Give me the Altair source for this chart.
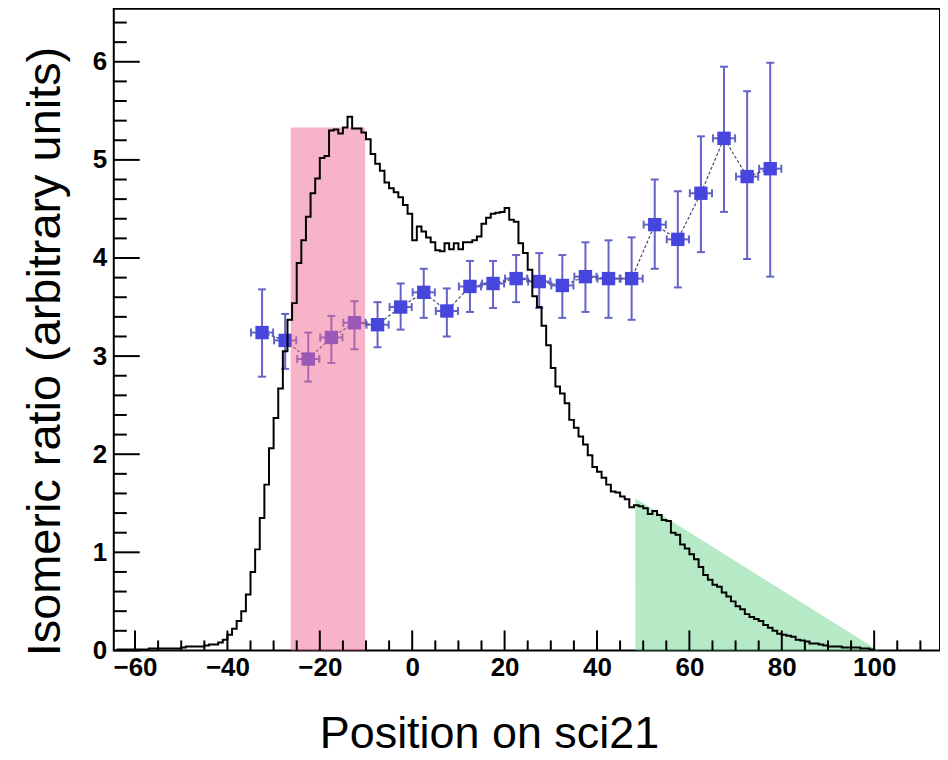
import altair as alt
import pandas as pd

# ---------------- data ----------------
HIST_START = -64          # left edge of first histogram bin (bin width 1)
HIST_VALUES = [
    0.01, 0.01, 0.01, 0.01, 0.01, 0.01, 0.01, 0.02, 0.02, 0.02,   # -64..-55
    0.02, 0.02, 0.02, 0.02, 0.03, 0.04, 0.04, 0.04, 0.04, 0.05,   # -54..-45
    0.06, 0.06, 0.08, 0.11, 0.16, 0.22, 0.30, 0.40, 0.57, 0.80,   # -44..-35
    1.03, 1.35, 1.69, 2.06, 2.37, 2.67, 3.05, 3.37, 3.54, 3.95,   # -34..-25
    4.18, 4.42, 4.66, 4.81, 5.02, 5.04, 5.30, 5.31, 5.27, 5.33,   # -24..-15
    5.44, 5.32, 5.32, 5.28, 5.21, 5.06, 4.96, 4.89, 4.77, 4.71,   # -14..-5
    4.67, 4.62, 4.54, 4.45, 4.18, 4.32, 4.27, 4.21, 4.16, 4.08,   # -4..5
    4.07, 4.15, 4.09, 4.15, 4.09, 4.16, 4.16, 4.18, 4.22, 4.35,   # 6..15
    4.41, 4.45, 4.46, 4.47, 4.51, 4.39, 4.37, 4.15, 4.05, 3.88,   # 16..25
    3.61, 3.50, 3.31, 3.11, 2.88, 2.69, 2.62, 2.52, 2.35, 2.27,   # 26..35
    2.18, 2.10, 1.99, 1.87, 1.82, 1.76, 1.69, 1.62, 1.61, 1.57,   # 36..45
    1.54, 1.46, 1.48, 1.47, 1.45, 1.39, 1.42, 1.38, 1.33, 1.32,   # 46..55
    1.20, 1.18, 1.08, 1.04, 0.98, 0.93, 0.85, 0.77, 0.72, 0.67,   # 56..65
    0.65, 0.59, 0.55, 0.50, 0.45, 0.42, 0.37, 0.34, 0.32, 0.30,   # 66..75
    0.26, 0.23, 0.20, 0.17, 0.16, 0.15, 0.14, 0.11, 0.10, 0.09,   # 76..85
    0.07, 0.07, 0.06, 0.05, 0.04, 0.04, 0.04, 0.03, 0.03, 0.03,   # 86..95
    0.03, 0.02, 0.02, 0.01,                                       # 96..99
]

PT_X = [-32.5, -27.5, -22.5, -17.5, -12.5, -7.5, -2.5, 2.5, 7.5, 12.5, 17.5, 22.5,
        27.5, 32.5, 37.5, 42.5, 47.5, 52.5, 57.5, 62.5, 67.5, 72.5, 77.5]
PT_Y = [3.24, 3.16, 2.97, 3.19, 3.34, 3.32, 3.50, 3.65, 3.46, 3.71, 3.74, 3.79,
        3.76, 3.72, 3.81, 3.79, 3.79, 4.34, 4.19, 4.66, 5.22, 4.83, 4.91]
PT_HI = [3.68, 3.43, 3.24, 3.41, 3.56, 3.55, 3.74, 3.89, 3.69, 3.97, 3.97, 4.03,
         4.05, 4.03, 4.16, 4.18, 4.21, 4.80, 4.68, 5.24, 5.95, 5.70, 5.99]
PT_LO = [2.79, 2.87, 2.74, 2.93, 3.07, 3.09, 3.27, 3.39, 3.20, 3.45, 3.49, 3.55,
         3.49, 3.39, 3.45, 3.39, 3.37, 3.89, 3.70, 4.06, 4.47, 3.99, 3.81]
PT_XERR = 2.4

PINK_X = [-26.3]
PINK_X2 = [-10.2]
PINK_TOP = [5.33]

TRI_X = [48.3, 100.9]
TRI_Y = [1.55, 0.0]

X_MAJOR = [-60, -40, -20, 0, 20, 40, 60, 80, 100]
X_MINOR = [-55, -50, -45, -35, -30, -25, -15, -10, -5, 5, 10, 15, 25, 30, 35,
           45, 50, 55, 65, 70, 75, 85, 90, 95, 105, 110]
Y_MAJOR = [0, 1, 2, 3, 4, 5, 6]
Y_MINOR = [0.2, 0.4, 0.6, 0.8, 1.2, 1.4, 1.6, 1.8, 2.2, 2.4, 2.6, 2.8, 3.2, 3.4,
           3.6, 3.8, 4.2, 4.4, 4.6, 4.8, 5.2, 5.4, 5.6, 5.8, 6.2, 6.4]

# ---------------- layout ----------------
W, H = 828, 643
FONT = "Liberation Sans"

xs = alt.Scale(domain=[-64.6, 114.25], nice=False, zero=False)
ys = alt.Scale(domain=[0, 6.54], nice=False, zero=False)

xaxis = alt.Axis(values=X_MAJOR, ticks=False, domain=False, grid=False,
                 labelFont=FONT, labelFontWeight="bold", labelFontSize=26,
                 labelColor="black", labelPadding=4, labelFlush=False,
                 labelOverlap=False,
                 titleFont=FONT, titleFontSize=45, titleFontWeight="normal",
                 titleColor="black", titleX=376, titleY=97,
                 titleAlign="center", titleBaseline="alphabetic")
yaxis = alt.Axis(values=Y_MAJOR, ticks=False, domain=False, grid=False,
                 labelFont=FONT, labelFontWeight="bold", labelFontSize=26,
                 labelColor="black", labelPadding=7, labelFlush=False,
                 labelOverlap=False,
                 titleFont=FONT, titleFontSize=47, titleFontWeight="normal",
                 titleColor="black", titleX=-54, titleY=343, titleAngle=270,
                 titleAlign="center", titleBaseline="alphabetic")

XT = "Position on sci21"
YT = "Isomeric ratio (arbitrary units)"


def X(f):
    return alt.X(f, type="quantitative", scale=xs, axis=xaxis, title=XT)


def Y(f):
    return alt.Y(f, type="quantitative", scale=ys, axis=yaxis, title=YT)


# histogram (step line)
edges = [HIST_START + i for i in range(len(HIST_VALUES))]
hist_df = pd.DataFrame({"x": edges + [edges[-1] + 1],
                        "y": HIST_VALUES + [HIST_VALUES[-1]]})

pts = pd.DataFrame({"x": PT_X, "y": PT_Y, "lo": PT_LO, "hi": PT_HI})
pts["xlo"] = pts["x"] - PT_XERR
pts["xhi"] = pts["x"] + PT_XERR

pink_df = pd.DataFrame({"x": PINK_X, "x2": PINK_X2, "y": [0.0], "y2": PINK_TOP})
tri_df = pd.DataFrame({"x": TRI_X, "y": TRI_Y})

BLUE = "#4646df"
EBLUE = "#6464c8"

green = alt.Chart(tri_df).mark_area(color="#6ed58f", opacity=0.5).encode(
    x=X("x"), y=Y("y"))

vbar = alt.Chart(pts).mark_rule(color=EBLUE, strokeWidth=2).encode(
    x=X("x"), y=Y("lo"), y2=alt.Y2("hi"))
vcap_hi = alt.Chart(pts).mark_rule(color=EBLUE, strokeWidth=2, xOffset=-4, x2Offset=4).encode(
    x=X("x"), x2=alt.X2("x"), y=Y("hi"))
vcap_lo = alt.Chart(pts).mark_rule(color=EBLUE, strokeWidth=2, xOffset=-4, x2Offset=4).encode(
    x=X("x"), x2=alt.X2("x"), y=Y("lo"))
hbar = alt.Chart(pts).mark_rule(color=EBLUE, strokeWidth=2).encode(
    x=X("xlo"), x2=alt.X2("xhi"), y=Y("y"))
hcap_l = alt.Chart(pts).mark_rule(color=EBLUE, strokeWidth=2, yOffset=-4, y2Offset=4).encode(
    x=X("xlo"), y=Y("y"), y2=alt.Y2("y"))
hcap_r = alt.Chart(pts).mark_rule(color=EBLUE, strokeWidth=2, yOffset=-4, y2Offset=4).encode(
    x=X("xhi"), y=Y("y"), y2=alt.Y2("y"))
conn = alt.Chart(pts).mark_line(color="#4a4a6a", strokeWidth=1.2, strokeDash=[3, 2]).encode(
    x=X("x"), y=Y("y"))
squares = alt.Chart(pts).mark_square(color=BLUE, size=180, opacity=1).encode(
    x=X("x"), y=Y("y"))

pink = alt.Chart(pink_df).mark_rect(color="#f06a92", opacity=0.5).encode(
    x=X("x"), x2=alt.X2("x2"), y=Y("y"), y2=alt.Y2("y2"))

hist = alt.Chart(hist_df).mark_line(color="black", strokeWidth=2,
                                    interpolate="step-after").encode(
    x=X("x"), y=Y("y"))

xmaj = alt.Chart(pd.DataFrame({"t": X_MAJOR})).mark_rule(color="black", strokeWidth=2).encode(
    x=X("t"), y=alt.value(H), y2=alt.value(H - 20))
xmin = alt.Chart(pd.DataFrame({"t": X_MINOR})).mark_rule(color="black", strokeWidth=2).encode(
    x=X("t"), y=alt.value(H), y2=alt.value(H - 10))
ymaj = alt.Chart(pd.DataFrame({"t": Y_MAJOR})).mark_rule(color="black", strokeWidth=2).encode(
    y=Y("t"), x=alt.value(0), x2=alt.value(26))
ymin = alt.Chart(pd.DataFrame({"t": Y_MINOR})).mark_rule(color="black", strokeWidth=2).encode(
    y=Y("t"), x=alt.value(0), x2=alt.value(13))

chart = alt.layer(
    green, vbar, vcap_hi, vcap_lo, hbar, hcap_l, hcap_r, conn, squares,
    pink, hist, xmaj, xmin, ymaj, ymin
).properties(
    width=W, height=H,
    autosize=alt.AutoSizeParams(type="none"),
    padding={"left": 106, "top": 0, "right": 0, "bottom": 108},
    background="white",
).configure_view(
    stroke="black", strokeWidth=2
)

chart.save("out.html", embed_options={"renderer": "svg", "actions": False})
